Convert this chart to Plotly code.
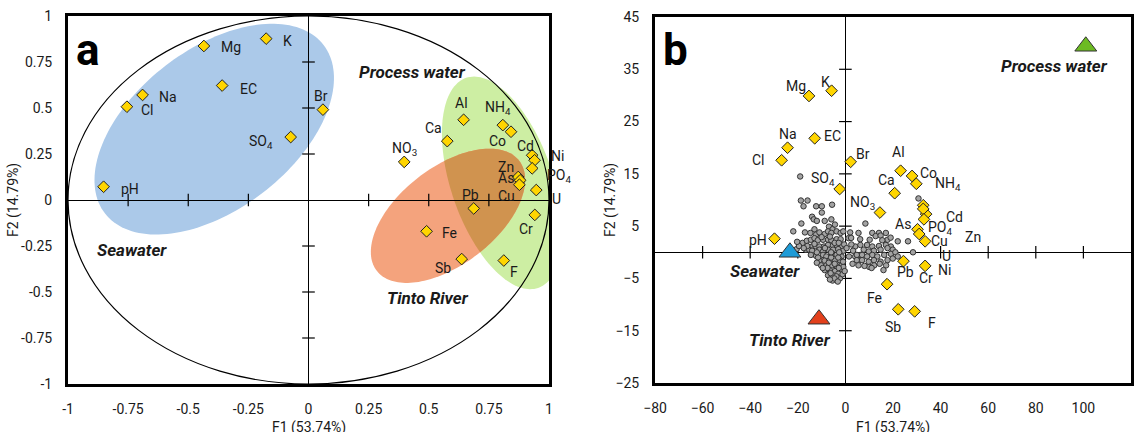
import numpy as np
import plotly.graph_objects as go

# ---------------- DATA ----------------
variables = ["pH", "Cl", "Na", "Mg", "K", "EC", "Br", "SO<sub>4</sub>", "NO<sub>3</sub>", "Ca",
             "Al", "NH<sub>4</sub>", "Co", "Cd", "Ni", "PO<sub>4</sub>", "Zn", "As", "Cu", "U",
             "Pb", "Cr", "Fe", "Sb", "F"]
# panel a : loadings (correlation circle)
a_f1 = [-0.852, -0.755, -0.690, -0.435, -0.176, -0.359, 0.060, -0.074, 0.398, 0.577,
        0.645, 0.808, 0.842, 0.930, 0.940, 0.930, 0.872, 0.880, 0.877, 0.947,
        0.687, 0.941, 0.491, 0.637, 0.812]
a_f2 = [0.072, 0.507, 0.571, 0.837, 0.877, 0.622, 0.491, 0.342, 0.207, 0.320,
        0.436, 0.407, 0.371, 0.243, 0.216, 0.172, 0.125, 0.107, 0.083, 0.054,
        -0.046, -0.081, -0.170, -0.321, -0.329]
# panel b : variables projected in the sample space
b_f1 = [-29.8, -26.8, -24.3, -15.3, -5.8, -12.9, 2.2, -2.4, 14.5, 20.7,
        23.2, 29.8, 28.0, 32.7, 33.5, 33.9, 32.7, 30.3, 31.0, 33.0,
        24.4, 33.5, 17.5, 22.2, 29.1]
b_f2 = [2.6, 17.6, 20.0, 29.9, 30.9, 21.8, 17.3, 12.1, 7.6, 11.3,
        15.6, 13.1, 14.6, 9.0, 2.1, 7.3, 8.3, 4.4, 3.5, 6.3,
        -1.7, -2.6, -6.1, -10.9, -11.3]

# end-members (panel b)
groups = ["Seawater", "Tinto River", "Process water"]
group_f1 = [-23.3, -11.1, 101.0]
group_f2 = [0.0, -12.8, 39.4]

# samples (panel b)
samp_f1 = [-19.0, -18.7, -15.9, -17.6, -12.3, -9.9, -5.6, -9.9, -14.0, -13.3, -12.0, -8.7, -5.9,
           -18.5, -6.9, -5.4, -4.4, -21.9, -17.0, -14.7, -13.0, -12.3, -10.9, -8.7, -7.3, -5.9,
           -3.7, -2.0, -0.9, 2.0, -18.0, -16.2, -14.5, -13.0, -11.6, -9.4, -7.3, -5.9, -3.7, -2.0,
           1.3, -14.0, -12.6, -10.9, -9.0, -7.3, -5.2, -3.7, -1.6, -16.6, -15.2, -14.0, -10.9,
           -9.4, -7.3, -5.2, -3.0, -0.9, -14.5, -12.3, -9.4, -8.0, -5.9, -3.7, -1.6, -10.9, -8.7,
           -6.6, -4.4, -2.3, -10.2, -8.0, -5.6, -3.7, -1.6, -8.7, -6.6, -4.4, -2.3, -0.9, -7.3,
           -5.2, -3.0, -5.4, -2.3, 4.1, 5.6, 6.3, -20.5, 30.7,
           8.4, 5.5, 11.3, 14.1, 17.0, 12.7, 14.8, 17.7, 22.0, 26.3, 4.1, 6.3, 9.1, 11.3, 14.1,
           17.0, 19.1, 7.7, 9.8, 12.0, 14.8, 17.7, 19.9, 4.8, 7.0, 9.1, 11.3, 13.4, 16.3, 19.1,
           28.4, 4.8, 7.0, 9.8, 12.0, 14.8, 17.7, 19.9, 2.4, 12.1, 14.4, 17.1, 10.0,
           -11.5, -6.0, -3.0, -12.0, -7.0, -4.5, -2.8, -7.5, -9.5, -6.2, -3.8, -4.6, -6.5, -3.2,
           -1.2, -1.0, -2.6, -6.0, -8.6, -12.0, -13.0, -4.5, -2.8, -6.5, -10.0, -16.0, -19.5,
           -20.3, -17.5, -0.3, -0.5, 0.5, 2.5, 3.2, 1.5, 3.0, 5.5, 8.0, 6.2, 10.2, 15.5, 19.0,
           21.0, 22.0, 11.0, 16.0]
samp_f2 = [14.5, 9.9, 9.9, 8.8, 8.8, 8.8, 9.1, 7.6, 6.8, 6.3, 6.0, 6.0, 6.3,
           5.5, 4.9, 4.4, 5.3, 4.0, 3.8, 3.7, 4.4, 3.4, 3.8, 3.5, 4.0, 3.7,
           4.0, 3.7, 4.0, 3.8, 1.8, 2.2, 2.4, 2.7, 2.3, 2.4, 2.4, 2.3, 2.5, 2.5,
           2.7, 1.1, 1.2, 1.1, 1.1, 1.4, 1.3, 1.4, 1.2, 0.5, 0.5, 0.3, 0.5,
           0.15, 0.5, 0.5, 0.6, 0.3, -0.5, -0.7, -0.5, -0.8, -0.5, -0.5, -0.8, -1.5, -1.6,
           -1.5, -1.6, -1.5, -2.5, -2.5, -2.5, -2.6, -2.5, -3.4, -3.4, -3.6, -3.3, -2.8, -4.4,
           -4.4, -4.1, -5.4, -5.0, -0.8, -1.5, -0.5, 0.6, 10.3,
           5.5, 3.7, 3.7, 3.7, 3.7, 3.1, 3.2, 2.4, 2.1, 2.1, 1.1, 1.4, 1.4, 1.1, 1.2,
           1.4, 1.1, 0.5, 0.15, 0.3, 0.5, 0.8, 0.5, -0.5, -0.5, -0.8, -0.5, -0.8, -0.5, -0.3,
           0.0, -1.5, -1.5, -1.8, -1.5, -1.8, -1.5, -1.2, 2.75, -2.5, -2.2, -2.5, -2.8,
           -1.0, -1.0, -1.0, -2.0, -2.0, -2.2, -3.0, -3.0, -3.0, -4.0, -4.6, -5.0, -5.2, -5.6,
           -4.2, -1.8, 0.0, 0.0, 0.8, 0.0, 1.6, 1.8, 1.8, 3.0, 2.9, 1.2, 1.2,
           2.0, 0.8, -3.6, 1.5, 0.8, 1.5, 0.3, -0.8, -2.2, -2.5, -2.6, 2.5, 2.4, 2.3, 2.8,
           0.0, -0.8, -3.0, -3.4]

a_ticks = [-1, -0.75, -0.5, -0.25, 0, 0.25, 0.5, 0.75, 1]
a_ticktext = ["-1", "-0.75", "-0.5", "-0.25", "0", "0.25", "0.5", "0.75", "1"]
b_xticks = [-80, -60, -40, -20, 0, 20, 40, 60, 80, 100, 120]
b_yticks = [-25, -15, -5, 5, 15, 25, 35, 45]
x_title = "F1 (53.74%)"
y_title = "F2 (14.79%)"

# ---------------- STYLE ----------------
FONT = "Roboto, Liberation Sans, sans-serif"
TXT = "#1a1a1a"
W, H = 1136, 432
A_L, A_R, A_T, A_B = 68, 549, 16, 384
B_L, B_R, B_T, B_B = 655, 1131, 17, 383
a_sx = (A_R - A_L) / 2.0   # px per unit
a_sy = (A_B - A_T) / 2.0

# label offsets (screen px, dx right, dy down)
a_off = {"pH": (26, 2), "Cl": (21, 3), "Na": (25, 2), "Mg": (27, 1), "K": (21, 2), "EC": (26, 3),
         "Br": (-2, -14), "SO<sub>4</sub>": (-30, 5), "NO<sub>3</sub>": (0, -13), "Ca": (-14, -13),
         "Al": (-2, -17), "NH<sub>4</sub>": (-5, -17), "Co": (-14, 9), "Cd": (-7, -9),
         "Ni": (23, -4), "PO<sub>4</sub>": (27, 8), "Zn": (-12, -10), "As": (-14, -2),
         "Cu": (-13, 11), "U": (20, 9), "Pb": (-3, -13), "Cr": (-9, 14), "Fe": (23, 2),
         "Sb": (-19, 9), "F": (10, 11)}
b_off = {"pH": (-16, 1), "Cl": (-23, 0), "Na": (0, -14), "Mg": (-13, -10), "K": (-6, -9),
         "EC": (18, -2), "Br": (12, -8), "SO<sub>4</sub>": (-17, -10), "NO<sub>3</sub>": (-17, -10),
         "Ca": (-8, -13), "Al": (-2, -19), "NH<sub>4</sub>": (32, 0), "Co": (16, -3),
         "Cd": (31, 12), "Ni": (19, 29), "PO<sub>4</sub>": (14, 14), "Zn": (50, 28), "As": (-15, -5),
         "Cu": (20, 7), "U": (23, 37), "Pb": (2, 11), "Cr": (1, 12), "Fe": (-13, 14),
         "Sb": (-5, 18), "F": (17, 12)}
g_off = [(-25, 19), (-29, 21), (-31, 20)]


def ellipse_pts(cx, cy, a_px, b_px, ang, sx, sy, n=160):
    t = np.linspace(0, 2 * np.pi, n, endpoint=False)
    u, v = a_px * np.cos(t), b_px * np.sin(t)
    th = np.radians(ang)
    dx = u * np.cos(th) - v * np.sin(th)
    dy = u * np.sin(th) + v * np.cos(th)
    return list(zip(cx + dx / sx, cy + dy / sy))


def clip_poly(subject, clipper):
    def inside(p, a, b):
        return (b[0] - a[0]) * (p[1] - a[1]) - (b[1] - a[1]) * (p[0] - a[0]) >= 0

    def inter(p, q, a, b):
        x1, y1 = p; x2, y2 = q; x3, y3 = a; x4, y4 = b
        den = (x1 - x2) * (y3 - y4) - (y1 - y2) * (x3 - x4)
        t = ((x1 - x3) * (y3 - y4) - (y1 - y3) * (x3 - x4)) / den
        return (x1 + t * (x2 - x1), y1 + t * (y2 - y1))

    out = subject
    for i in range(len(clipper)):
        a, b = clipper[i], clipper[(i + 1) % len(clipper)]
        inp, out = out, []
        if not inp:
            break
        s = inp[-1]
        for e in inp:
            if inside(e, a, b):
                if not inside(s, a, b):
                    out.append(inter(s, e, a, b))
                out.append(e)
            elif inside(s, a, b):
                out.append(inter(s, e, a, b))
            s = e
    return out


def path_of(pts):
    return "M " + " L ".join(f"{x:.5f},{y:.5f}" for x, y in pts) + " Z"


blue = ellipse_pts(-0.392, 0.385, 138, 80, 37.6, a_sx, a_sy)
green = ellipse_pts(0.805, 0.093, 111, 51, 108.9, a_sx, a_sy)
orange = ellipse_pts(0.580, -0.086, 90, 48.5, 37.7, a_sx, a_sy)
overlap = clip_poly(orange, green)

fig = go.Figure()

shapes = []
for pts, col in [(blue, "#abc9e9"), (green, "#cdeea3"), (orange, "#f4a37d"), (overlap, "#d0934f")]:
    shapes.append(dict(type="path", path=path_of(pts), xref="x", yref="y", fillcolor=col,
                       line=dict(width=0), layer="below"))
shapes.append(dict(type="circle", x0=-1, y0=-1, x1=1, y1=1, xref="x", yref="y",
                   line=dict(color="black", width=1.2), layer="below"))

# tick marks on the central axes
inner_a = [v for v in a_ticks if v not in (-1, 0, 1)]
fig.add_trace(go.Scatter(x=inner_a, y=[0] * len(inner_a), mode="markers", xaxis="x", yaxis="y",
                         marker=dict(symbol="line-ns", size=9, line=dict(color="black", width=1.2)),
                         hoverinfo="skip", showlegend=False))
fig.add_trace(go.Scatter(x=[0] * len(inner_a), y=inner_a, mode="markers", xaxis="x", yaxis="y",
                         marker=dict(symbol="line-ew", size=9, line=dict(color="black", width=1.2)),
                         hoverinfo="skip", showlegend=False))
inner_bx = [v for v in b_xticks if v not in (-80, 0, 120)]
inner_by = [v for v in b_yticks if v not in (-25, 45)]
fig.add_trace(go.Scatter(x=inner_bx, y=[0] * len(inner_bx), mode="markers", xaxis="x2", yaxis="y2",
                         marker=dict(symbol="line-ns", size=9, line=dict(color="black", width=1.2)),
                         hoverinfo="skip", showlegend=False))
fig.add_trace(go.Scatter(x=[0] * len(inner_by), y=inner_by, mode="markers", xaxis="x2", yaxis="y2",
                         marker=dict(symbol="line-ew", size=9, line=dict(color="black", width=1.2)),
                         hoverinfo="skip", showlegend=False))

# panel a diamonds
fig.add_trace(go.Scatter(x=a_f1, y=a_f2, mode="markers", xaxis="x", yaxis="y", text=variables,
                         marker=dict(symbol="diamond", size=9, color="#ffd500",
                                     line=dict(color="#222", width=1)),
                         showlegend=False, cliponaxis=False))
# panel b samples
fig.add_trace(go.Scatter(x=samp_f1, y=samp_f2, mode="markers", xaxis="x2", yaxis="y2",
                         marker=dict(symbol="circle", size=5.5, color="#a3a3a3",
                                     line=dict(color="#333333", width=1)),
                         showlegend=False))
# panel b diamonds
fig.add_trace(go.Scatter(x=b_f1, y=b_f2, mode="markers", xaxis="x2", yaxis="y2", text=variables,
                         marker=dict(symbol="diamond", size=9, color="#ffd500",
                                     line=dict(color="#222", width=1)),
                         showlegend=False))
# end-members
fig.add_trace(go.Scatter(x=group_f1, y=group_f2, mode="markers", xaxis="x2", yaxis="y2", text=groups,
                         marker=dict(symbol="triangle-up", size=19,
                                     color=["#1d9bd7", "#e2401c", "#6cbb22"],
                                     line=dict(color="#333", width=1)),
                         showlegend=False))

ann = []
for name, x, y in zip(variables, a_f1, a_f2):
    dx, dy = a_off[name]
    ann.append(dict(x=x, y=y, xref="x", yref="y", text=name, showarrow=False, xshift=dx, yshift=-dy,
                    font=dict(family=FONT, size=14, color=TXT)))
for name, x, y in zip(variables, b_f1, b_f2):
    dx, dy = b_off[name]
    ann.append(dict(x=x, y=y, xref="x2", yref="y2", text=name, showarrow=False, xshift=dx, yshift=-dy,
                    font=dict(family=FONT, size=14, color=TXT)))

gfont = dict(family=FONT, size=17, color=TXT)
# group labels panel a
ann += [
    dict(x=0.433, y=0.698, xref="x", yref="y", text="<b><i>Process water</i></b>", showarrow=False, font=gfont),
    dict(x=-0.735, y=-0.27, xref="x", yref="y", text="<b><i>Seawater</i></b>", showarrow=False, font=gfont),
    dict(x=0.495, y=-0.533, xref="x", yref="y", text="<b><i>Tinto River</i></b>", showarrow=False, font=gfont),
]
# group labels panel b (relative to triangles)
for gname, x, y, (dx, dy) in zip(groups, group_f1, group_f2, g_off):
    ann.append(dict(x=x, y=y, xref="x2", yref="y2", text=f"<b><i>{gname}</i></b>", showarrow=False,
                    xshift=dx, yshift=-dy, font=gfont))

# panel letters
ann += [
    dict(x=0.012, y=0.985, xref="x domain", yref="y domain", text="<b>a</b>", showarrow=False,
         xanchor="left", yanchor="top", font=dict(family=FONT, size=44, color="black")),
    dict(x=0.012, y=0.985, xref="x2 domain", yref="y2 domain", text="<b>b</b>", showarrow=False,
         xanchor="left", yanchor="top", font=dict(family=FONT, size=44, color="black")),
]
# axis titles
tfont = dict(family=FONT, size=14, color=TXT)
for (cx, cy) in [((A_L + A_R) / 2, 427), ((B_L + B_R) / 2, 427)]:
    ann.append(dict(x=cx / W, y=1 - cy / H, xref="paper", yref="paper", text=x_title, showarrow=False,
                    xanchor="center", yanchor="middle", font=tfont))
for (cx, cy) in [(13, 200), (610, 200)]:
    ann.append(dict(x=cx / W, y=1 - cy / H, xref="paper", yref="paper", text=y_title, showarrow=False,
                    textangle=-90, xanchor="center", yanchor="middle", font=tfont))

axis_common = dict(showgrid=False, zeroline=True, zerolinecolor="black", zerolinewidth=1.2,
                   showline=True, mirror=True, linecolor="black", linewidth=3, ticks="",
                   tickfont=dict(family=FONT, size=14, color=TXT), ticklabelstandoff=10,
                   automargin=False)

fig.update_layout(
    width=W, height=H, margin=dict(l=0, r=0, t=0, b=0, autoexpand=False),
    paper_bgcolor="white", plot_bgcolor="white", showlegend=False,
    xaxis=dict(domain=[A_L / W, A_R / W], range=[-1, 1], tickvals=a_ticks, ticktext=a_ticktext,
               anchor="y", **axis_common),
    yaxis=dict(domain=[1 - A_B / H, 1 - A_T / H], range=[-1, 1], tickvals=a_ticks, ticktext=a_ticktext,
               anchor="x", **axis_common),
    xaxis2=dict(domain=[B_L / W, B_R / W], range=[-80, 120], tickvals=b_xticks, anchor="y2", **axis_common),
    yaxis2=dict(domain=[1 - B_B / H, 1 - B_T / H], range=[-25, 45], tickvals=b_yticks, anchor="x2",
                **axis_common),
    shapes=shapes, annotations=ann,
)

fig.write_html("out.html")
